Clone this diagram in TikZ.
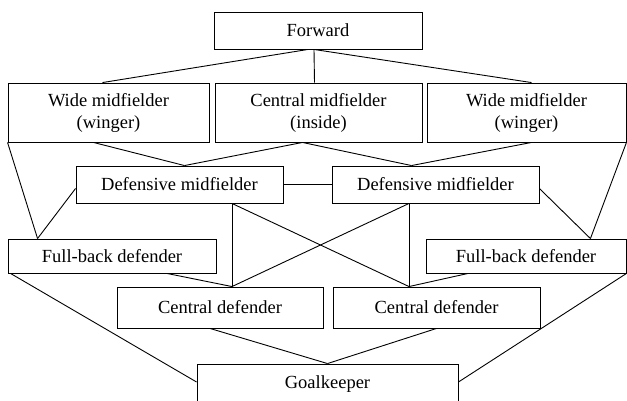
\documentclass[tikz,border=0pt]{standalone}
\usepackage{fontspec}
\setmainfont{Liberation Serif}

\begin{document}
\begin{tikzpicture}[x=1pt,y=-1pt,line width=0.9pt,
  role/.style={draw,rectangle,align=center,inner sep=0pt,font=\fontsize{18.5}{22}\selectfont}]
\useasboundingbox (0,0) rectangle (627,400);
\node[role,minimum width=208pt,minimum height=37pt] (FW) at (318,30.5) {Forward};
\node[role,minimum width=201pt,minimum height=59pt] (WL) at (108.5,112.5) {Wide midfielder\\(winger)};
\node[role,minimum width=207pt,minimum height=59pt] (CM) at (318.5,112.5) {Central midfielder\\(inside)};
\node[role,minimum width=199pt,minimum height=59pt] (WR) at (526.5,112.5) {Wide midfielder\\(winger)};
\node[role,minimum width=207pt,minimum height=37pt] (DL) at (179.5,184.5) {Defensive midfielder};
\node[role,minimum width=207pt,minimum height=37pt] (DR) at (435.5,184.5) {Defensive midfielder};
\node[role,minimum width=208pt,minimum height=34pt] (FL) at (112,256) {Full-back defender};
\node[role,minimum width=200pt,minimum height=34pt] (FR) at (526,256) {Full-back defender};
\node[role,minimum width=206pt,minimum height=41pt] (CL) at (220,307.5) {Central defender};
\node[role,minimum width=207pt,minimum height=41pt] (CR) at (436.5,307.5) {Central defender};
\node[role,minimum width=261pt,minimum height=40pt] (GK) at (327.5,384) {Goalkeeper};

\draw ([xshift=-10pt]FW.south) -- ([xshift=-6pt]WL.north);
\draw ([xshift=-4pt]FW.south) -- ([xshift=-4pt]CM.north);
\draw ([xshift=-4pt]FW.south) -- ([xshift=5pt]WR.north);

\draw ([xshift=-15pt]WL.south) -- ([xshift=5pt]DL.north);
\draw ([xshift=-16pt]CM.south) -- ([xshift=5pt]DL.north);
\draw ([xshift=-16pt]CM.south) -- ([xshift=-24pt]DR.north);
\draw ([xshift=5pt]WR.south) -- ([xshift=-24pt]DR.north);
\draw (DL.east) -- (DR.west);

\draw (WL.south west) -- ([xshift=30pt]FL.north west);
\draw ([yshift=-4pt]DL.west) -- ([xshift=30pt]FL.north west);
\draw (WR.south east) -- ([xshift=-36pt]FR.north east);
\draw ([yshift=-4pt]DR.east) -- ([xshift=-36pt]FR.north east);

\draw ([xshift=52.5pt]DL.south) -- ([xshift=12pt]CL.north);
\draw ([xshift=52.5pt]DL.south) -- ([xshift=-27.5pt]CR.north);
\draw ([xshift=-26.5pt]DR.south) -- ([xshift=-27.5pt]CR.north);
\draw ([xshift=-26.5pt]DR.south) -- ([xshift=12pt]CL.north);
\draw ([xshift=55pt]FL.south) -- ([xshift=12pt]CL.north);
\draw ([xshift=-58pt]FR.south) -- ([xshift=-27.5pt]CR.north);

\draw ([xshift=3pt]FL.south west) -- ([yshift=2pt]GK.west);
\draw (FR.south east) -- ([yshift=2pt]GK.east);
\draw ([xshift=-10pt]CL.south) -- (GK.north);
\draw (CR.south) -- (GK.north);
\end{tikzpicture}
\end{document}
